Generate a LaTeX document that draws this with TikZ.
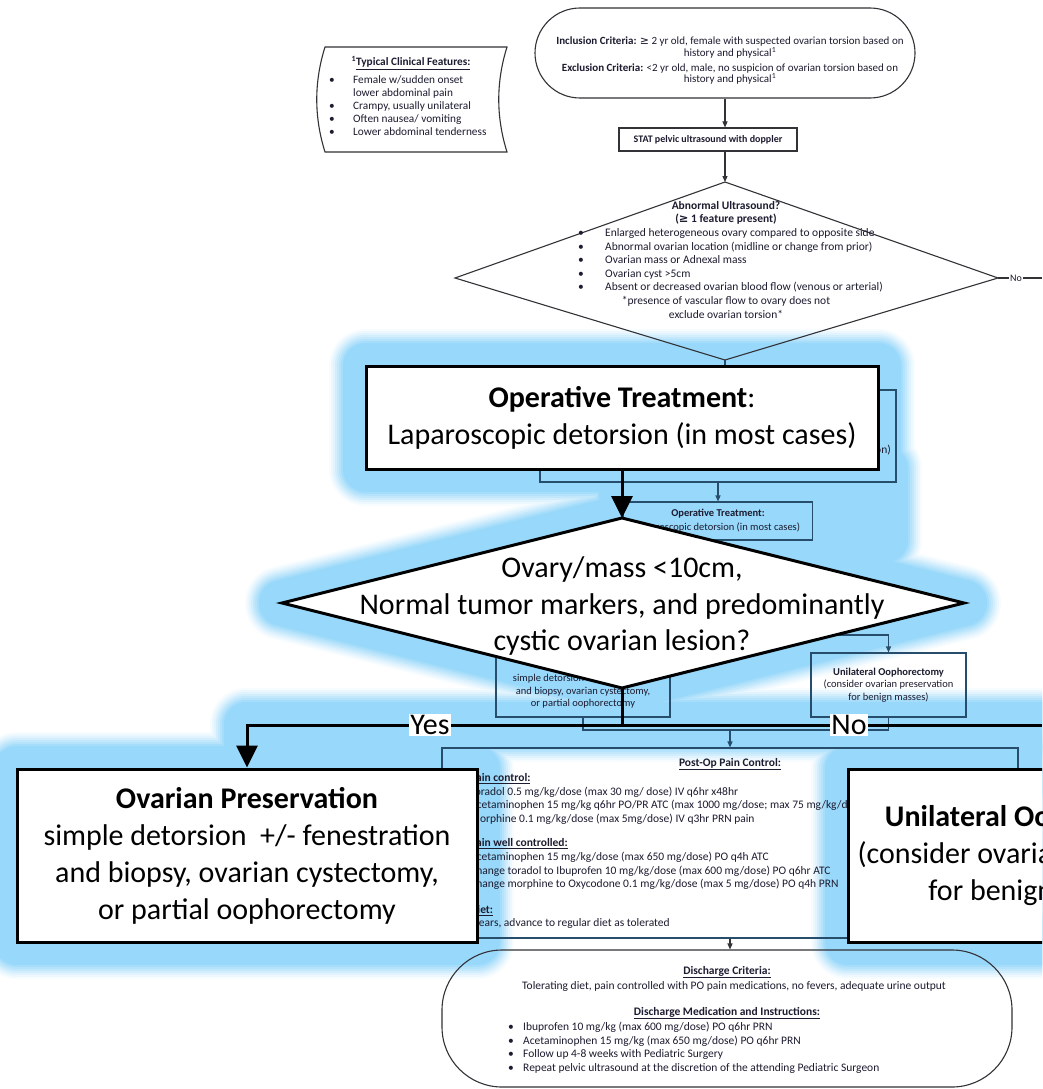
\documentclass[tikz,border=0pt]{standalone}
\usepackage{fontspec}
\setmainfont{Carlito}
\newfontfamily\symf{DejaVu Sans}
\usetikzlibrary{arrows.meta}
\definecolor{glowc}{RGB}{152,216,250}
\definecolor{bgline}{RGB}{50,50,55}
\definecolor{bgblue}{RGB}{38,78,108}
\definecolor{bgtext}{RGB}{28,28,48}
\newcommand\glowset[2]{%
 \begin{scope}[every path/.append style={draw=#2,fill=#2,line width=#1,line join=round,line cap=round}]
  \path (366,366) rectangle (878,469);
  \path (622,518) -- (964,603) -- (622,688) -- (282,603) -- cycle;
  \path (628,469) rectangle (885,540);
  \path (622,469) -- (622,518);
  \path (622,688) -- (622,725);
  \path (247,725) -- (1060,725);
  \path (247,725) -- (247,769);
  \path (17,769) rectangle (477,942);
  \path (848,769) rectangle (1240,942);
 \end{scope}}
\begin{document}
\begin{tikzpicture}[x=1pt,y=-1pt,
  bgl/.style={draw=bgline,line width=1.1pt},
  bgb/.style={draw=bgblue,line width=1.1pt},
  bgt/.style={text=bgtext,inner sep=0pt},
  fsmall/.style={font=\fontsize{10.5}{12.5}\selectfont},
  fmid/.style={font=\fontsize{11.5}{13.6}\selectfont},
  bgarrow/.style={-{Triangle[length=6pt,width=5pt]}},
  ovbox/.style={draw,line width=3pt,fill=white,font=\fontsize{30}{37}\selectfont,align=center,inner sep=0pt},
  ovline/.style={line width=3pt},
  ovarrow/.style={-{Triangle[length=22pt,width=21pt]}},
  lab/.style={fill=white,inner sep=1pt,font=\fontsize{30}{36}\selectfont}]
\useasboundingbox (0,0) rectangle (1042,1089);
\clip (0,0) rectangle (1042,1089);
\fill[white] (0,0) rectangle (1042,1089);
% ---------- glow ----------
\glowset{74pt}{glowc!8!white}
\glowset{70pt}{glowc!18!white}
\glowset{66pt}{glowc!30!white}
\glowset{62pt}{glowc!44!white}
\glowset{58pt}{glowc!58!white}
\glowset{54pt}{glowc!72!white}
\glowset{50pt}{glowc!86!white}
\glowset{46pt}{glowc}
% ---------- background flowchart ----------
% clinical features
\draw[bgl] (325,47) -- (507,47) .. controls (496,82) and (496,117) .. (507,152) -- (325,152) .. controls (314,117) and (314,82) .. (325,47) -- cycle;
\node[bgt,font=\fontsize{11.3}{13}\selectfont\bfseries] (feattitle) at (411,63) {\textsuperscript{1}\underline{Typical Clinical Features:}};
\node[bgt,font=\fontsize{11.3}{13}\selectfont,anchor=base west] (featlist) at (329,83.5) {\begin{tabular}[t]{@{}p{24pt}@{}l@{}}
\textbullet & Female w/sudden onset\\
 & lower abdominal pain\\
\textbullet & Crampy, usually unilateral\\
\textbullet & Often nausea/ vomiting\\
\textbullet & Lower abdominal tenderness
\end{tabular}};
% inclusion
\node[bgl,rounded corners=45pt,minimum width=380pt,minimum height=90pt] (incl) at (725,53) {};
\node[bgt,font=\fontsize{11}{11.5}\selectfont,align=center] (incltxt) at (730,61) {\textbf{Inclusion Criteria:} {\symf ≥} 2 yr old, female with suspected ovarian torsion based on\\ history and physical\textsuperscript{1}\\[3.5pt] \textbf{Exclusion Criteria:} <2 yr old, male, no suspicion of ovarian torsion based on\\ history and physical\textsuperscript{1}};
\node[bgl,minimum width=178pt,minimum height=23pt,text=bgtext,font=\fontsize{10}{12}\selectfont\bfseries,inner sep=0pt] (stat) at (708,139.5) {STAT pelvic ultrasound with doppler};
\draw[bgl,bgarrow] (incl.south) -- (incl.south |- stat.north);
% diamond 1
\coordinate (d1t) at (725,182);
\coordinate (d1r) at (998,278);
\coordinate (d1b) at (725,360);
\coordinate (d1l) at (455,278);
\coordinate (noend) at (1042,278);
\draw[bgl,bgarrow] (d1t |- stat.south) -- (d1t);
\draw[bgl] (d1t) -- (d1r) -- (d1b) -- (d1l) -- cycle;
\draw[bgl] (d1r) -- (noend);
\node[bgt,fill=white,inner sep=1pt,font=\fontsize{10}{12}\selectfont] (nolab1) at (1016,278) {No};
\node[bgt,font=\fontsize{11.5}{13.5}\selectfont\bfseries,align=center] (d1title) at (726,212.75) {Abnormal Ultrasound?\\({\symf ≥} 1 feature present)};
\node[bgt,font=\fontsize{11.5}{13.5}\selectfont,anchor=base west] (d1list) at (578,236.5) {\begin{tabular}[t]{@{}p{27pt}@{}l@{}}
\textbullet & Enlarged heterogeneous ovary compared to opposite side\\
\textbullet & Abnormal ovarian location (midline or change from prior)\\
\textbullet & Ovarian mass or Adnexal mass\\
\textbullet & Ovarian cyst >5cm\\
\textbullet & Absent or decreased ovarian blood flow (venous or arterial)
\end{tabular}};
\node[bgt,font=\fontsize{11.5}{13.5}\selectfont,align=center] (d1note) at (726,307.25) {*presence of vascular flow to ovary does not\\exclude ovarian torsion*};
% hidden box behind operative treatment
\node[bgb,minimum width=356pt,minimum height=92pt] (bgop) at (718,436) {};
\node[bgt,fmid,anchor=east] (bgopfrag) at (891,450) {on)};
\draw[bgb,bgarrow] (d1b) -- (d1b |- bgop.north);
\node[bgb,minimum width=189pt,minimum height=38pt,align=center,text=bgtext,inner sep=0pt,font=\fontsize{10.5}{14}\selectfont] (bgop2) at (718,521) {\textbf{Operative Treatment:}\\Laparoscopic detorsion (in most cases)};
\draw[bgb,bgarrow] (bgop.south) -- (bgop2.north);
\node[bgb,minimum width=174pt,minimum height=64pt,align=center,text=bgtext,inner sep=0pt,fsmall] (bgovp) at (583,685) {\textbf{Ovarian Preservation}\\simple detorsion +/- fenestration\\and biopsy, ovarian cystectomy,\\or partial oophorectomy};
\node[bgb,minimum width=155pt,minimum height=64pt,align=center,text=bgtext,inner sep=0pt,fsmall] (bguni) at (888.5,685) {\textbf{Unilateral Oophorectomy}\\(consider ovarian preservation\\for benign masses)};
\coordinate (split) at (718,635);
\draw[bgb] (bgop2.south) -- (split);
\draw[bgb,bgarrow] (split) -| (bgovp.north);
\draw[bgb,bgarrow] (split) -| (bguni.north);
% post-op
\node[bgb,minimum width=576pt,minimum height=190pt] (postop) at (730,843) {};
\coordinate (join) at (730,730);
\draw[bgb] (bgovp.south) |- (join);
\draw[bgb] (bguni.south) |- (join);
\draw[bgb,bgarrow] (join) -- (postop.north);
\node[bgt,font=\fontsize{11.5}{13.6}\selectfont\bfseries] (potitle) at (730,764) {\underline{Post-Op Pain Control:}};
\node[bgt,fmid,anchor=base west] (polist) at (457,781.5) {\begin{tabular}[t]{@{}p{13pt}@{}l@{}}
 & \textbf{\underline{Pain control:}}\\
\textbullet & Toradol 0.5 mg/kg/dose (max 30 mg/ dose) IV q6hr x48hr\\
\textbullet & Acetaminophen 15 mg/kg q6hr PO/PR ATC (max 1000 mg/dose; max 75 mg/kg/day)\\
\textbullet & Morphine 0.1 mg/kg/dose (max 5mg/dose) IV q3hr PRN pain\\[11pt]
 & \textbf{\underline{Pain well controlled:}}\\
\textbullet & Acetaminophen 15 mg/kg/dose (max 650 mg/dose) PO q4h ATC\\
\textbullet & Change toradol to Ibuprofen 10 mg/kg/dose (max 600 mg/dose) PO q6hr ATC\\
\textbullet & Change morphine to Oxycodone 0.1 mg/kg/dose (max 5 mg/dose) PO q4h PRN\\[12pt]
 & \textbf{\underline{Diet:}}\\
\textbullet & Clears, advance to regular diet as tolerated
\end{tabular}};
% discharge
\node[bgl,rounded corners=60pt,minimum width=570pt,minimum height=137pt] (disc) at (727,1018.5) {};
\draw[bgl,bgarrow] (postop.south) -- (postop.south |- disc.north);
\node[bgt,font=\fontsize{11.5}{13.6}\selectfont\bfseries] (dc1) at (727,972) {\underline{Discharge Criteria:}};
\node[bgt,fmid] (dc2) at (734,986) {Tolerating diet, pain controlled with PO pain medications, no fevers, adequate urine output};
\node[bgt,font=\fontsize{11.5}{13.6}\selectfont\bfseries] (dc3) at (727,1013) {\underline{Discharge Medication and Instructions:}};
\node[bgt,fmid,anchor=base west] (dclist) at (508,1030.5) {\begin{tabular}[t]{@{}p{15pt}@{}l@{}}
\textbullet & Ibuprofen 10 mg/kg (max 600 mg/dose) PO q6hr PRN\\
\textbullet & Acetaminophen 15 mg/kg (max 650 mg/dose) PO q6hr PRN\\
\textbullet & Follow up 4-8 weeks with Pediatric Surgery\\
\textbullet & Repeat pelvic ultrasound at the discretion of the attending Pediatric Surgeon
\end{tabular}};
% ---------- overlay ----------
\node[ovbox,minimum width=512pt,minimum height=103pt] (op) at (622,417.5) {\textbf{Operative Treatment}:\\Laparoscopic detorsion (in most cases)};
\coordinate (d2t) at (622,518);
\coordinate (d2r) at (964,603);
\coordinate (d2b) at (622,688);
\coordinate (d2l) at (282,603);
\draw[ovline,fill=white] (d2t) -- (d2r) -- (d2b) -- (d2l) -- cycle;
\node[font=\fontsize{30}{36.5}\selectfont,align=center,inner sep=0pt] (d2txt) at (622,606) {Ovary/mass <10cm,\\Normal tumor markers, and predominantly\\cystic ovarian lesion?};
\draw[ovline,ovarrow] (op.south) -- (d2t);
\node[ovbox,minimum width=460pt,minimum height=173pt] (ovp) at (247,855.5) {\textbf{Ovarian Preservation}\\simple detorsion \ +/- fenestration\\and biopsy, ovarian cystectomy,\\or partial oophorectomy};
\node[ovbox,minimum width=390pt,minimum height=173pt] (uni) at (1043,855.5) {\textbf{Unilateral Oophorectomy}\\(consider ovarian preservation\\for benign masses)};
\coordinate (yn) at (622,725);
\coordinate (ynright) at (1042,725);
\draw[ovline] (d2b) -- (yn);
\draw[ovline] (yn) -- (ynright);
\draw[ovline,ovarrow] (yn) -| (ovp.north);
\node[lab] (yes) at (430,725) {Yes};
\node[lab] (no) at (849,725) {No};
\end{tikzpicture}
\end{document}
